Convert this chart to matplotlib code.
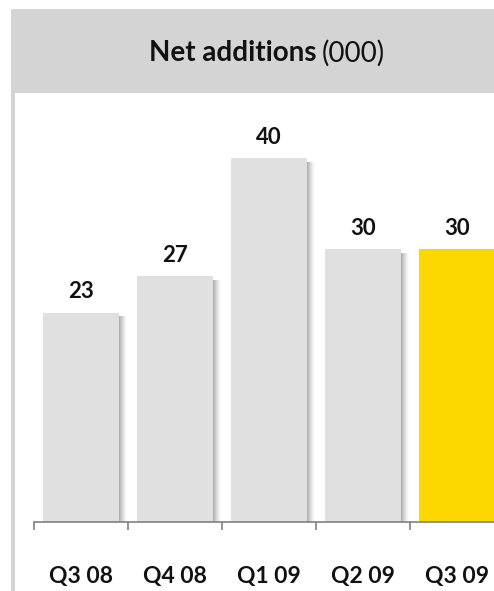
import numpy as np
import matplotlib.pyplot as plt
from matplotlib.patches import Rectangle
from matplotlib.transforms import blended_transform_factory

quarters = ['Q3 08', 'Q4 08', 'Q1 09', 'Q2 09', 'Q3 09']
net_adds = [23, 27, 40, 30, 30]
bar_colors = ['#e0e0e0', '#e0e0e0', '#e0e0e0', '#e0e0e0', '#fcd700']

plt.rcParams['font.family'] = ['Lato', 'DejaVu Sans']

W, H = 494, 591
fig = plt.figure(figsize=(W / 100, H / 100), dpi=100)
fig.patch.set_facecolor('white')

# header band and left frame line
fig.patches.append(Rectangle((11 / W, 1 - 93 / H), 1, 84 / H, transform=fig.transFigure,
                             facecolor='#d4d4d4', edgecolor='none', zorder=0))
fig.patches.append(Rectangle((11 / W, 0), 4 / W, 1 - 93 / H, transform=fig.transFigure,
                             facecolor='#d4d4d4', edgecolor='none', zorder=0))
fig.text(316 / W, 1 - 53 / H, 'Net additions', ha='right', va='center',
         fontsize=20, fontweight='bold', color='#111111')
fig.text(322 / W, 1 - 53 / H, '(000)', ha='left', va='center',
         fontsize=20, color='#111111')

# axes: baseline at y=522 px, categories 94 px wide starting at x=34 px
ax = fig.add_axes([34 / W, 69 / H, 470 / W, 429 / H])
ax.set_xlim(-0.5, 4.5)
ax.set_ylim(0, 429 / 9.1)
ax.patch.set_alpha(0)

x = np.arange(len(quarters))
bw = 0.81
px = 1 / 94.0

# soft shadow on the right side of each bar
n_sh = 8
for k in range(n_sh):
    ax.bar(x + bw / 2 + k * px, np.array(net_adds) - 0.4, width=px, align='edge',
           color='#606060', alpha=0.5 * (1 - k / n_sh) ** 1.5, linewidth=0, zorder=1)

ax.bar(x, net_adds, width=bw, color=bar_colors, linewidth=0, zorder=2)

for xi, v in zip(x, net_adds):
    ax.text(xi, v + 2.3, str(v), ha='center', va='center', fontsize=16,
            fontweight='bold', color='#111111')

for s in ['top', 'right', 'left']:
    ax.spines[s].set_visible(False)
ax.spines['bottom'].set_color('#808080')
ax.spines['bottom'].set_linewidth(1.2)
ax.set_yticks([])
ax.set_xticks(np.arange(-0.5, 5.0, 1.0))
ax.set_xticklabels([])
ax.tick_params(axis='x', direction='out', length=6, width=1.2, color='#808080')

trans = blended_transform_factory(ax.transData, fig.transFigure)
for xi, q in zip(x, quarters):
    ax.text(xi, 1 - 577 / H, q, transform=trans, ha='center', va='center',
            fontsize=16.5, fontweight='bold', color='#111111', clip_on=False)

fig.savefig('out.png', dpi=100)
